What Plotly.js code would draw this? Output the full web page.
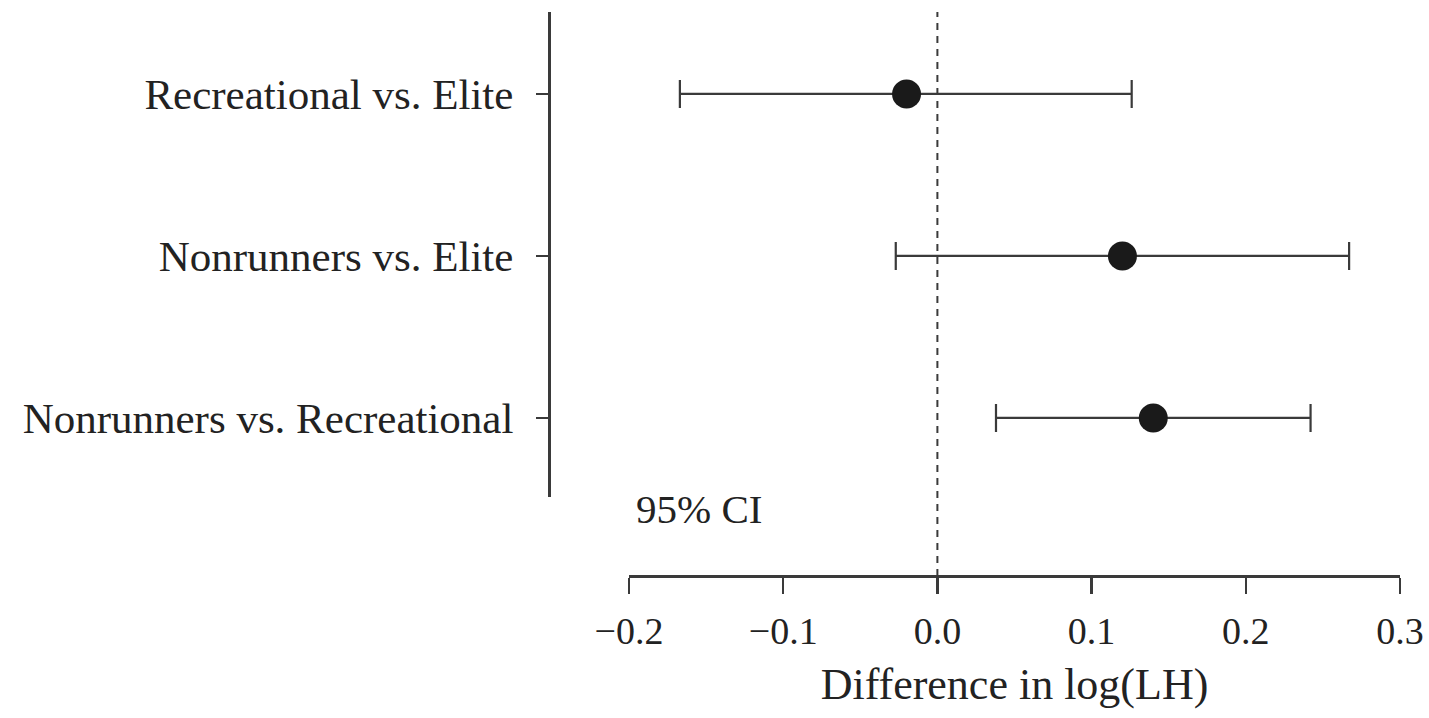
<!DOCTYPE html>
<html>
<head>
<meta charset="utf-8">
<script src="https://cdn.plot.ly/plotly-3.0.1.min.js"></script>
<style>
html,body{margin:0;padding:0;background:#fff;}
#chart{width:1429px;height:718px;}
</style>
</head>
<body>
<div id="chart"></div>
<script>
const comparisons = ['Recreational vs. Elite', 'Nonrunners vs. Elite', 'Nonrunners vs. Recreational'];
const estimates = [-0.020, 0.120, 0.140];
const lowerCI = [-0.167, -0.027, 0.038];
const upperCI = [0.126, 0.267, 0.242];
const xTickVals = [-0.2, -0.1, 0.0, 0.1, 0.2, 0.3];
const xTickText = ['\u22120.2', '\u22120.1', '0.0', '0.1', '0.2', '0.3'];

const errPlus = upperCI.map((u, i) => u - estimates[i]);
const errMinus = lowerCI.map((l, i) => estimates[i] - l);

const FONT = 'Liberation Serif, Times New Roman, serif';
const INK = '#3a3a3a';

const trace = {
  type: 'scatter',
  mode: 'markers',
  x: estimates,
  y: comparisons,
  marker: {size: 29, color: '#1a1a1a'},
  error_x: {
    type: 'data', symmetric: false,
    array: errPlus, arrayminus: errMinus,
    color: INK, thickness: 2.2, width: 14
  },
  hoverinfo: 'x+y',
  showlegend: false
};

const layout = {
  width: 1429, height: 718,
  margin: {l: 549, r: 29, t: 12, b: 142},
  paper_bgcolor: '#fff', plot_bgcolor: '#fff',
  font: {family: FONT, color: '#222'},
  xaxis: {
    domain: [0.094, 1],
    range: [-0.2, 0.3],
    tickvals: xTickVals, ticktext: xTickText,
    showline: true, linecolor: INK, linewidth: 2.5,
    ticks: 'outside', ticklen: 16, tickwidth: 2.5, tickcolor: INK,
    showgrid: false, zeroline: false,
    tickfont: {family: FONT, size: 38, color: '#222'},
    ticklabelstandoff: 5,
    title: {text: 'Difference in log(LH)', font: {family: FONT, size: 44, color: '#222'}, standoff: 16},
    anchor: 'free', position: 0
  },
  yaxis: {
    domain: [0.1401, 1],
    type: 'category',
    categoryorder: 'array', categoryarray: comparisons,
    range: [2.488, -0.506],
    showline: true, linecolor: INK, linewidth: 2.5,
    ticks: 'outside', ticklen: 12, tickwidth: 2.5, tickcolor: INK,
    showgrid: false, zeroline: false,
    tickfont: {family: FONT, size: 43, color: '#222'},
    ticklabelstandoff: 14,
    anchor: 'free', position: 0
  },
  shapes: [{
    type: 'line', xref: 'x', yref: 'paper',
    x0: 0, x1: 0, y0: 0, y1: 1,
    line: {color: INK, width: 2, dash: '7px,6px'},
    layer: 'below'
  }],
  annotations: [{
    text: '95% CI', xref: 'x', yref: 'paper',
    x: -0.197, y: 0.118, xanchor: 'left', yanchor: 'middle',
    showarrow: false,
    font: {family: FONT, size: 41, color: '#222'}
  }]
};

Plotly.newPlot('chart', [trace], layout, {displayModeBar: false, staticPlot: true});
</script>
</body>
</html>
